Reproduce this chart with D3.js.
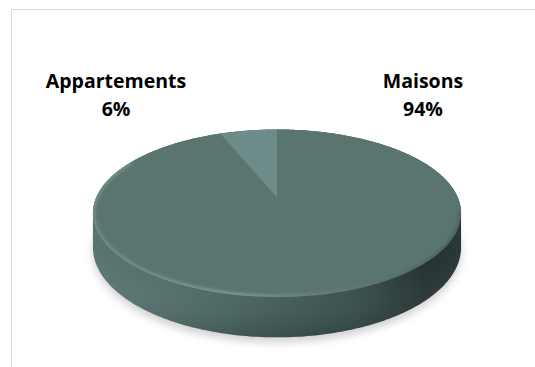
<!DOCTYPE html>
<html><head><meta charset="utf-8">
<script src="https://cdn.jsdelivr.net/npm/d3@7"></script>
<style>html,body{margin:0;padding:0;background:#fff;}svg{display:block;}</style>
</head><body>
<script>
// ---- data ----
const categories = ["Maisons", "Appartements"];
const values = [94, 6];
const percentLabels = ["94%", "6%"];
const sliceColors = ["#5a746f", "#6b8c89"];

// ---- layout ----
const W = 535, H = 367;
const cx = 277, cy0 = 198;        // projected centre of top face
const A = 181, B = 81, k = -0.182; // perspective projection params
const D = 33;                      // depth of the disc

function proj(theta, depth) {
  const u = Math.sin(theta), v = -Math.cos(theta);
  const w = 1 + k * v;
  return [cx + A * u / w, cy0 + (B * v + depth) / w];
}

const svg = d3.select("body").append("svg").attr("width", W).attr("height", H);
const defs = svg.append("defs");

// border
svg.append("rect").attr("x", 11.5).attr("y", 9.5).attr("width", W).attr("height", H)
  .attr("fill", "#fff").attr("stroke", "#d9d9d9").attr("stroke-width", 1);

const line = d3.line().curve(d3.curveLinearClosed);
const N = 360;
const range = (a, b, n) => d3.range(n + 1).map(i => a + (b - a) * i / n);

// shadow
const blur = defs.append("filter").attr("id", "blur").attr("x", "-20%").attr("y", "-40%").attr("width", "140%").attr("height", "180%");
blur.append("feGaussianBlur").attr("stdDeviation", 4.5);
svg.append("path")
  .attr("d", line(range(0, 2 * Math.PI, N).map(t => { const p = proj(t, D); return [p[0], p[1] + 5]; })))
  .attr("fill", "#000").attr("opacity", 0.18).attr("filter", "url(#blur)");

// side (convex hull of top and bottom outlines)
const topPts = range(0, 2 * Math.PI, N).map(t => proj(t, 0));
const botPts = range(0, 2 * Math.PI, N).map(t => proj(t, D));
const hull = d3.polygonHull(topPts.concat(botPts));

const sg = defs.append("linearGradient").attr("id", "side").attr("x1", 0).attr("x2", 1).attr("y1", 0).attr("y2", 0);
[[0, "#577571"], [0.35, "#47635f"], [0.7, "#344b49"], [0.9, "#233030"], [1, "#2a3837"]]
  .forEach(([o, c]) => sg.append("stop").attr("offset", o).attr("stop-color", c));
svg.append("path").attr("d", line(hull)).attr("fill", "url(#side)");

const vg = defs.append("linearGradient").attr("id", "sidev").attr("gradientUnits", "userSpaceOnUse")
  .attr("x1", 0).attr("x2", 0).attr("y1", 250).attr("y2", 340);
[[0, "#ffffff", 0], [0.5, "#ffffff", 0.05], [1, "#000000", 0.12]]
  .forEach(([o, c, op]) => vg.append("stop").attr("offset", o).attr("stop-color", c).attr("stop-opacity", op));
svg.append("path").attr("d", line(hull)).attr("fill", "url(#sidev)");

// pie slices on top face
const pie = d3.pie().sort(null).value(d => d);
const arcs = pie(values);
const g = svg.append("g");
arcs.forEach((a, i) => {
  const n = Math.max(2, Math.round(N * (a.endAngle - a.startAngle) / (2 * Math.PI)));
  const pts = [[cx, cy0]].concat(range(a.startAngle, a.endAngle, n).map(t => proj(t, 0)));
  g.append("path").attr("d", line(pts)).attr("fill", sliceColors[i]);
});

// rim bevel highlight, clipped to the top face
defs.append("clipPath").attr("id", "topclip").append("path").attr("d", line(topPts));
const rimG = defs.append("linearGradient").attr("id", "rim").attr("x1", 0).attr("x2", 1).attr("y1", 0).attr("y2", 0);
[[0, "#7a9894", 0.7], [0.4, "#809e9a", 0.85], [0.75, "#5f7b77", 0.5], [1, "#2b3a39", 0.3]]
  .forEach(([o, c, op]) => rimG.append("stop").attr("offset", o).attr("stop-color", c).attr("stop-opacity", op));
const blur2 = defs.append("filter").attr("id", "blur2").attr("x", "-10%").attr("y", "-30%").attr("width", "120%").attr("height", "160%");
blur2.append("feGaussianBlur").attr("stdDeviation", 1.5);
const rimPts = range(Math.PI / 2 + 0.15, 3 * Math.PI / 2 + 0.5, 160).map(t => proj(t, 0));
svg.append("g").attr("clip-path", "url(#topclip)")
  .append("path").attr("d", d3.line()(rimPts)).attr("fill", "none")
  .attr("stroke", "url(#rim)").attr("stroke-width", 5).attr("filter", "url(#blur2)");

// labels
const labelPos = [[423, 88], [116, 88]];
categories.forEach((c, i) => {
  const t = svg.append("text").attr("x", labelPos[i][0]).attr("y", labelPos[i][1])
    .attr("text-anchor", "middle").attr("font-family", "'Open Sans', Lato, sans-serif")
    .attr("font-weight", "bold").attr("font-size", 19.5).attr("fill", "#000");
  t.append("tspan").attr("x", labelPos[i][0]).text(c);
  t.append("tspan").attr("x", labelPos[i][0]).attr("dy", 28).text(percentLabels[i]);
});
</script>
</body></html>
